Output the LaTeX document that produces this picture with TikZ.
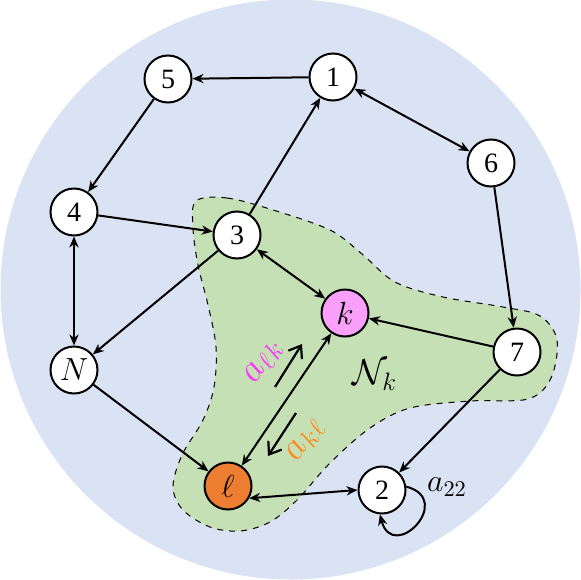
\RequirePackage{fix-cm}
\documentclass[tikz,border=0pt]{standalone}
\usepackage{fontspec}
\setmainfont{Liberation Serif}
\usetikzlibrary{arrows.meta}
\definecolor{bgblue}{HTML}{DAE3F3}
\definecolor{nbgreen}{HTML}{C5E0B4}
\definecolor{lorange}{HTML}{ED7D31}
\definecolor{kpink}{HTML}{FAA0FA}
\definecolor{lkmag}{HTML}{FF33FF}
\definecolor{kltxt}{HTML}{FF8C1A}
\tikzset{
  gnode/.style={circle,draw=black,line width=1pt,fill=white,minimum size=23.5pt,inner sep=0pt,font=\fontsize{14}{16}\selectfont},
  mnode/.style={gnode,font=\fontsize{16}{18}\selectfont},
  link/.style={line width=1pt,-{Stealth[length=5.5pt,width=4.6pt]}},
  blink/.style={line width=1pt,{Stealth[length=5.5pt,width=4.6pt]}-{Stealth[length=5.5pt,width=4.6pt]}},
  dirarrow/.style={line width=1.1pt,-{Straight Barb[length=5.5pt,width=8pt]}},
  lbl/.style={font=\fontsize{16}{18}\selectfont,inner sep=0pt},
  rlbl/.style={font=\fontsize{19}{21}\selectfont,inner sep=0pt,rotate=56}
}
\begin{document}
\begin{tikzpicture}[x=0.5pt,y=0.5pt]
\useasboundingbox (0,0) rectangle (581,579);
\fill[bgblue] (290.5,289.5) circle[radius=145pt];
\draw[fill=nbgreen,dashed,line width=0.5pt] plot[smooth cycle,tension=0.55] coordinates {
 (196,378) (227,381) (273,369) (330,349) (362,325) (395,297) (443,282) (503,272)
 (540,263) (557,239) (551,201) (528,180) (470,178) (410,171) (370,151) (330,116)
 (297,79) (270,57) (240,48) (210,52) (183,69) (173,92) (182,124) (203,159)
 (214,192) (216,232) (208,274) (198,314) (193,351)};
\node[gnode] (n5) at (168,500) {5};
\node[gnode] (n1) at (333,502) {1};
\node[gnode] (n6) at (491,416) {6};
\node[gnode] (n4) at (74,367) {4};
\node[gnode] (n3) at (237,344) {3};
\node[mnode,fill=kpink] (nk) at (345,266) {$k$};
\node[gnode] (n7) at (517,227) {7};
\node[mnode] (nN) at (74,209) {$N$};
\node[mnode,fill=lorange] (nl) at (228,93) {$\ell$};
\node[gnode] (n2) at (382,89) {2};
\draw[link] (n1) -- (n5);
\draw[blink] (n1) -- (n6);
\draw[link] (n5) -- (n4);
\draw[blink] (n4) -- (nN);
\draw[link] (n4) -- (n3);
\draw[link] (n3) -- (n1);
\draw[link] (n3) -- (nN);
\draw[blink] (n3) -- (nk);
\draw[link] (n7) -- (nk);
\draw[link] (n6) -- (n7);
\draw[link] (n7) -- (n2);
\draw[link] (nN) -- (nl);
\draw[blink] (nk) -- (nl);
\draw[blink] (nl.-30) -- (n2.west);
\draw[link] (n2.8) to[out=-15,in=-75,looseness=3.4] (n2.-95);
\coordinate (lkA) at (275,192);
\coordinate (lkB) at (302,235);
\coordinate (klA) at (296,166);
\coordinate (klB) at (268,123);
\draw[dirarrow] (lkA) -- (lkB);
\draw[dirarrow] (klA) -- (klB);
\node[rlbl,text=lkmag] (alk) at (264,217) {$a_{\ell k}$};
\node[rlbl,text=kltxt] (akl) at (306,139) {$a_{k\ell}$};
\node[lbl,font=\fontsize{18}{20}\selectfont] (Nk) at (375,204) {$\mathcal{N}_k$};
\node[lbl] (a22) at (447,92) {$a_{22}$};
\end{tikzpicture}
\end{document}
